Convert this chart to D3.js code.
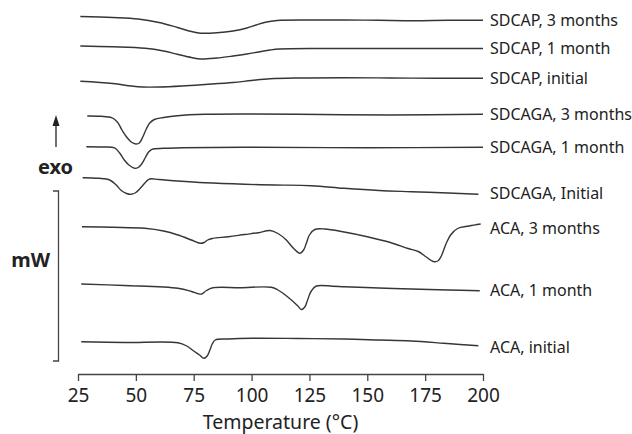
<!DOCTYPE html>
<html>
<head>
<meta charset="utf-8">
<script src="https://cdn.jsdelivr.net/npm/d3@7"></script>
<style>
  body { margin: 0; background: #fff; }
  svg { display: block; font-family: "Noto Sans", "Open Sans", sans-serif; }
</style>
</head>
<body>
<div id="chart"></div>
<script>
// curve names, top to bottom
const labels = ["SDCAP, 3 months", "SDCAP, 1 month", "SDCAP, initial",
    "SDCAGA, 3 months", "SDCAGA, 1 month", "SDCAGA, Initial",
    "ACA, 3 months", "ACA, 1 month", "ACA, initial"];

// baseline of each curve in the stack (arbitrary heat flow units)
const offsets = [354, 326, 295.5, 259.5, 226.5, 180.5, 146, 83.5, 27];

// [temperature in C, heat flow relative to baseline]
const sdcap3 = [[26,3.5],[40,2.5],[51,1],[60,-2.5],[68,-7.5],[74,-11.5],[78,-13.2],[85,-12.8],[92,-11],[98,-8],[102,-5],[106,-2.2],[111,-0.5],[125,0],[140,0],[155,-0.3],[170,-0.7],[185,-0.3],[200,-0.3]];
const sdcap1 = [[26,2],[40,1.2],[54,-0.3],[62,-3],[68,-6.3],[74,-9.5],[78,-11],[85,-10],[92,-8],[98,-6],[103,-4],[108,-2],[112,-1],[130,-0.5],[160,-0.5],[200,-0.5]];
const sdcap0 = [[26,-2.8],[40,-5],[48,-7.5],[53,-8.5],[60,-8.5],[70,-7.5],[80,-6],[92,-4],[100,-2],[108,-0.3],[120,0.5],[140,0.8],[160,0.5],[180,0.3],[200,0.2]];
const sdcaga3 = [[29,-1.5],[35,-1.8],[39.5,-3.2],[42,-7.5],[44,-15.5],[46,-22.5],[48,-27.5],[50,-29.5],[51.5,-28.5],[53,-22.5],[54.5,-14.5],[56,-8.5],[58,-5],[62,-3],[68,-1.2],[80,0.2],[100,0.5],[130,0],[160,-0.5],[200,0.2]];
const sdcaga1 = [[28.6,0.8],[36,0.5],[40.8,-0.4],[43,-5.5],[45,-12.5],[47,-17.5],[49.5,-20.8],[51,-20],[52.5,-16.5],[54,-10.5],[55.5,-4.5],[57,-1.8],[62,-0.8],[70,-0.2],[100,0.2],[150,-0.2],[200,0.2]];
const sdcaga0 = [[27,15.8],[34,15.2],[38.7,13.5],[41.5,8.5],[43.7,3],[46,0],[48,-0.8],[50,1],[52.4,6.5],[54.5,12],[56,14.5],[60,14],[68,12.5],[80,10.7],[97,9.2],[110,8.5],[125.8,7.8],[140,5.2],[155,3],[169,1.8],[185,0.5],[198,-0.8]];
const aca3 = [[26.7,1.3],[40,0.7],[53.8,-0.3],[62,-3],[68.2,-7],[74,-12],[77.8,-15.3],[79.5,-14.5],[81,-12],[83,-10.5],[90,-8.7],[97,-6.5],[103,-4.7],[108,-2.5],[111.4,-5.5],[115,-12],[118,-20],[120.8,-25.3],[122.5,-22],[123.7,-15],[125,-7],[127.3,-1.5],[131.6,-1],[140,-4],[150,-8.7],[160,-14.5],[167.6,-20.5],[172,-23.5],[175.5,-29],[178.5,-33.5],[180.5,-33],[182,-28],[184,-16],[186,-7],[189,-0.5],[194,2],[199,4]];
const aca1 = [[26.4,6.5],[45,5],[68.2,2.2],[74,-1],[77,-3.3],[78.5,-3.5],[80.5,0],[83.3,2.7],[95,2.8],[108.5,3.2],[111.4,0.5],[114,-3.5],[117.2,-9.5],[120,-15.5],[121.5,-19],[123,-16.5],[124.2,-9.5],[125.8,-0.5],[128,4.5],[135,4.3],[140,3.8],[155,2.5],[169,1.5],[185,0.5],[198.6,-0.2]];
const aca0 = [[26.4,5.3],[45,4.5],[68.2,4.3],[72,1],[75,-4],[77.5,-8],[79.4,-11.3],[80.8,-9],[82,-3],[83,3],[84.3,7],[90,8],[100,8.7],[120,8.5],[140,8],[155,7],[169,6],[183,3.7],[190,2.5],[198,1.3]];

const curves = [sdcap3, sdcap1, sdcap0, sdcaga3, sdcaga1, sdcaga0, aca3, aca1, aca0];
const xTicks = [25, 50, 75, 100, 125, 150, 175, 200];

const width = 632, height = 434;

const svg = d3.select("#chart")
    .append("svg")
    .attr("width", width)
    .attr("height", height);

const x = d3.scaleLinear().domain([25, 200]).range([78, 483]);
const y = d3.scaleLinear().domain([0, 370]).range([374, 4]);

const line = d3.line()
    .x(d => x(d[0]))
    .y(d => y(d[1] + d.off))
    .curve(d3.curveCatmullRom.alpha(0.5));

curves.forEach((c, i) => {
    const pts = c.map(p => { const q = p.slice(); q.off = offsets[i]; return q; });
    svg.append("path")
        .datum(pts)
        .attr("d", line)
        .attr("fill", "none")
        .attr("stroke", "#363636")
        .attr("stroke-width", 1.4);
});

// curve labels, centred on each baseline
svg.selectAll("text.label")
    .data(labels)
    .enter()
    .append("text")
    .attr("class", "label")
    .attr("x", x(200) + 7)
    .attr("y", (d, i) => y(offsets[i]) + 5.8)
    .style("font-size", "16px")
    .style("fill", "#222")
    .text(d => d);

// x axis
const xAxis = svg.append("g")
    .attr("transform", `translate(0,${y(0)})`)
    .call(d3.axisBottom(x).tickValues(xTicks).tickSize(7).tickSizeOuter(0).tickPadding(7.5));
xAxis.select(".domain").attr("stroke", "#444").attr("stroke-width", 1.3);
xAxis.selectAll(".tick line").attr("stroke", "#444").attr("stroke-width", 1.3);
xAxis.selectAll(".tick text")
    .style("font-size", "19px")
    .style("font-family", "'Noto Sans', sans-serif")
    .attr("fill", "#222");

svg.append("text")
    .attr("x", (x(25) + x(200)) / 2)
    .attr("y", 429)
    .attr("text-anchor", "middle")
    .style("font-size", "19.5px")
    .style("fill", "#222")
    .text("Temperature (°C)");

// exo arrow
svg.append("line")
    .attr("x1", 56).attr("x2", 56)
    .attr("y1", 147).attr("y2", 125)
    .attr("stroke", "#222").attr("stroke-width", 1.3);
svg.append("path")
    .attr("d", "M56,115 L52.5,126 L59.5,126 Z")
    .attr("fill", "#222");
svg.append("text")
    .attr("x", 55.5)
    .attr("y", 174)
    .attr("text-anchor", "middle")
    .style("font-size", "20px")
    .style("font-weight", "bold")
    .style("fill", "#222")
    .text("exo");

// mW scale bracket
svg.append("path")
    .attr("d", "M53,191 H58.5 V361 H53")
    .attr("fill", "none")
    .attr("stroke", "#444")
    .attr("stroke-width", 1.3);
svg.append("text")
    .attr("x", 50)
    .attr("y", 267)
    .attr("text-anchor", "end")
    .style("font-size", "20px")
    .style("font-weight", "bold")
    .style("fill", "#222")
    .text("mW");
</script>
</body>
</html>
